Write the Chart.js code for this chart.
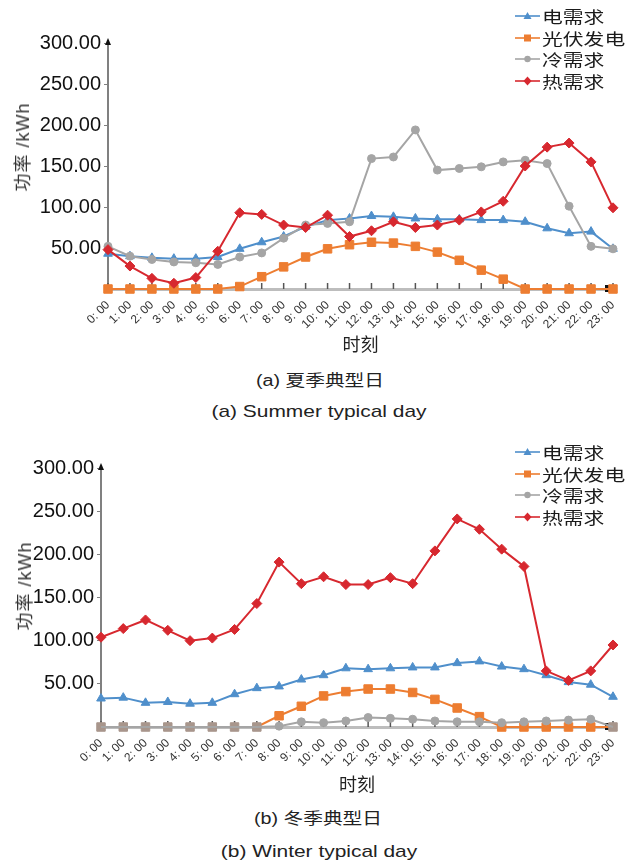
<!DOCTYPE html>
<html lang="zh">
<head>
<meta charset="UTF-8">
<title>典型日功率曲线</title>
<script src="https://cdn.jsdelivr.net/npm/chart.js"></script>
<style>
    body { margin: 0; background: #fff; }
    .page { position: relative; width: 640px; height: 863px; overflow: hidden; }
    .panel { position: absolute; left: 0; }
    .txt {
        position: absolute; white-space: nowrap; line-height: 1;
        transform: translate(-50%, -50%) scaleX(1.23);
        font-family: "Liberation Sans", "Noto Sans CJK SC", sans-serif; color: #222;
    }
    .ytitle {
        position: absolute; white-space: nowrap; line-height: 1;
        transform: translate(-50%, -50%) rotate(-90deg);
        font-size: 18px; color: #333; letter-spacing: 1px;
        font-family: "Liberation Sans", "Noto Sans CJK SC", sans-serif;
    }
    .legend { position: absolute; left: 515px; }
    .legend-item { height: 21.7px; display: flex; align-items: center; }
    .legend-item span {
        font: 16px "Noto Sans CJK SC"; color: #1a1a1a;
        transform: scaleX(1.3); transform-origin: left center; margin-left: 2px;
    }
</style>
</head>
<body>
<div class="page">
    <div class="panel" style="top:0"><canvas id="summerChart" width="640" height="360"></canvas></div>
    <div class="legend" id="summerLegend" style="top:5px"></div>
    <div class="ytitle" style="left:23px; top:147px">功率 /kWh</div>
    <div class="txt" style="left:320px; top:381px; font-size:16px">(a) 夏季典型日</div>
    <div class="txt" style="left:319px; top:411px; font-size:17px">(a) Summer typical day</div>

    <div class="panel" style="top:425px"><canvas id="winterChart" width="640" height="375"></canvas></div>
    <div class="legend" id="winterLegend" style="top:441px"></div>
    <div class="ytitle" style="left:25px; top:586px">功率 /kWh</div>
    <div class="txt" style="left:318px; top:819px; font-size:16px">(b) 冬季典型日</div>
    <div class="txt" style="left:319px; top:851px; font-size:17px">(b) Winter typical day</div>
</div>

<script>
    // categories
    const hours = ['0: 00', '1: 00', '2: 00', '3: 00', '4: 00', '5: 00', '6: 00', '7: 00',
        '8: 00', '9: 00', '10: 00', '11: 00', '12: 00', '13: 00', '14: 00', '15: 00',
        '16: 00', '17: 00', '18: 00', '19: 00', '20: 00', '21: 00', '22: 00', '23: 00'];

    const seriesNames = ['电需求', '光伏发电', '冷需求', '热需求'];

    // summer typical day (kWh)
    const elecSummer = [43, 40, 38, 37, 37, 39, 49, 57, 64, 76, 84, 86, 89, 88, 86, 85, 85, 84, 84, 82, 74, 68, 70, 49];
    const pvSummer   = [0, 0, 0, 0, 0, 0, 3, 15, 27, 39, 49, 54, 57, 56, 52, 45, 35, 23, 12, 0, 0, 0, 0, 0];
    const coldSummer = [52, 40, 36, 33, 32, 30, 39, 44, 62, 78, 80, 82, 159, 161, 194, 145, 147, 149, 155, 157, 153, 101, 52, 49];
    const heatSummer = [48, 28, 13, 7, 14, 46, 93, 91, 78, 75, 90, 64, 71, 82, 75, 78, 84, 94, 107, 150, 173, 178, 155, 99];

    // winter typical day (kWh)
    const elecWinter = [33, 34, 28, 29, 27, 28, 38, 45, 47, 55, 60, 68, 67, 68, 69, 69, 74, 76, 70, 67, 60, 52, 49, 35];
    const pvWinter   = [0, 0, 0, 0, 0, 0, 0, 0, 13, 24, 36, 41, 44, 44, 40, 32, 22, 12, 0, 0, 0, 0, 0, 0];
    const coldWinter = [0, 0, 0, 0, 0, 0, 0, 0, 1, 6, 5, 7, 11, 10, 9, 7, 6, 6, 5, 6, 7, 8, 9, 0];
    const heatWinter = [104, 114, 124, 112, 100, 103, 113, 143, 191, 166, 174, 165, 165, 173, 166, 204, 241, 229, 206, 186, 65, 54, 65, 95];

    // y axis range / ticks
    const yMin = 0, yMax = 300, yStep = 50;

    const colors = ['#4f8fcb', '#ed7d31', '#a5a5a5', '#d7282f'];
    const markers = ['triangle', 'rect', 'circle', 'rectRot'];
    const radii = [5, 6, 4, 5];
    const mixedSquare = '#a8968c'; // orange square under the zero cold line

    // small axis details: inner x ticks and the arrow heads
    const axisDecor = {
        id: 'axisDecor',
        beforeDatasetsDraw(chart) {
            const { ctx, chartArea, scales: { x } } = chart;
            ctx.save();
            ctx.strokeStyle = '#555';
            ctx.lineWidth = 1.5;
            x.ticks.forEach((t, i) => {
                const px = x.getPixelForTick(i);
                ctx.beginPath();
                ctx.moveTo(px, chartArea.bottom);
                ctx.lineTo(px, chartArea.bottom - 6);
                ctx.stroke();
            });
            ctx.fillStyle = '#111';
            // y arrow
            ctx.beginPath();
            ctx.moveTo(chartArea.left, chartArea.top - 5);
            ctx.lineTo(chartArea.left - 3, chartArea.top + 2);
            ctx.lineTo(chartArea.left + 3, chartArea.top + 2);
            ctx.closePath();
            ctx.fill();
            // x arrow
            ctx.fillRect(chartArea.right - 8, chartArea.bottom - 4, 5, 7);
            ctx.restore();
        }
    };

    function buildLegend(el) {
        seriesNames.forEach((name, k) => {
            const c = colors[k];
            let m = '';
            if (markers[k] === 'triangle') m = `<polygon points="12.5,2 16.5,9 8.5,9" fill="${c}"/>`;
            if (markers[k] === 'rect') m = `<rect x="9" y="2.5" width="7" height="7" fill="${c}"/>`;
            if (markers[k] === 'circle') m = `<circle cx="12.5" cy="6" r="3.2" fill="${c}"/>`;
            if (markers[k] === 'rectRot') m = `<polygon points="12.5,1.5 16.5,6 12.5,10.5 8.5,6" fill="${c}"/>`;
            const item = document.createElement('div');
            item.className = 'legend-item';
            item.innerHTML = `<svg width="25" height="12"><line x1="0" y1="6" x2="25" y2="6" stroke="${c}" stroke-width="2" opacity="0.8"/>${m}</svg><span>${name}</span>`;
            el.appendChild(item);
        });
    }

    function buildChart(id, series, geom) {
        const [elec, pv, cold, heat] = series;
        const bothZero = i => cold[i] === 0 && pv[i] === 0;

        const datasets = seriesNames.map((name, k) => ({
            label: name,
            data: series[k],
            borderColor: colors[k],
            backgroundColor: colors[k],
            pointBackgroundColor: colors[k],
            pointBorderColor: colors[k],
            pointStyle: markers[k],
            pointRadius: radii[k],
            pointBorderWidth: 1,
            borderWidth: 2,
            tension: 0,
            fill: false,
            clip: false,
            order: 4 - k
        }));
        // cold line lies over the zero pv squares: mixed colour, hidden circles
        datasets[1].pointBackgroundColor = c => bothZero(c.dataIndex) ? mixedSquare : colors[1];
        datasets[1].pointBorderColor = c => bothZero(c.dataIndex) ? mixedSquare : colors[1];
        datasets[2].pointRadius = c => bothZero(c.dataIndex) ? 0 : radii[2];

        return new Chart(document.getElementById(id), {
            type: 'line',
            data: { labels: hours, datasets },
            options: {
                responsive: false,
                animation: false,
                devicePixelRatio: 1,
                layout: { padding: { top: geom.top, right: geom.right, left: 0, bottom: 0 } },
                plugins: { legend: { display: false }, tooltip: { enabled: false } },
                scales: {
                    x: {
                        type: 'category',
                        offset: false,
                        grid: { display: false, drawTicks: false },
                        border: { display: true, color: '#bdbdbd', width: 3 },
                        ticks: {
                            autoSkip: false, minRotation: 45, maxRotation: 45, padding: 9,
                            color: '#333', font: { family: 'Liberation Sans', size: 12 }
                        },
                        title: {
                            display: true, text: '时刻', color: '#222',
                            font: { family: 'Noto Sans CJK SC', size: 18 },
                            padding: { top: 0, bottom: 5 }
                        },
                        afterFit: s => { s.height = geom.xHeight; }
                    },
                    y: {
                        min: yMin, max: yMax,
                        grid: { display: true, drawOnChartArea: false, drawTicks: true, tickLength: 4, color: '#808080' },
                        border: { display: true, color: '#808080', width: 2 },
                        ticks: {
                            stepSize: yStep, padding: 3, color: '#111',
                            font: { family: 'Liberation Sans', size: 20 },
                            callback: v => v === 0 ? '' : Number(v).toFixed(2)
                        },
                        afterFit: s => { s.width = geom.yWidth; }
                    }
                }
            },
            plugins: [axisDecor]
        });
    }

    buildLegend(document.getElementById('summerLegend'));
    buildLegend(document.getElementById('winterLegend'));

    buildChart('summerChart', [elecSummer, pvSummer, coldSummer, heatSummer],
        { top: 43, right: 27, yWidth: 108, xHeight: 71 });
    buildChart('winterChart', [elecWinter, pvWinter, coldWinter, heatWinter],
        { top: 43, right: 27, yWidth: 101, xHeight: 73 });
</script>
</body>
</html>
